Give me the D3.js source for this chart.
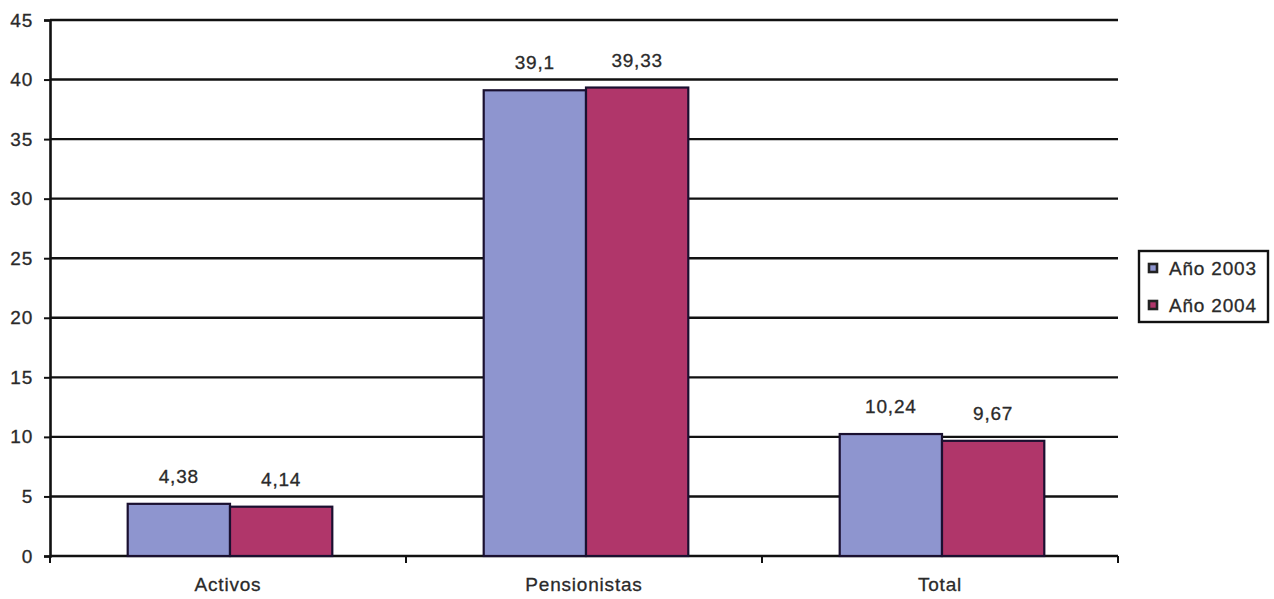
<!DOCTYPE html>
<html>
<head>
<meta charset="utf-8">
<script src="https://cdn.jsdelivr.net/npm/d3@7"></script>
<style>
  body { margin: 0; background: #fff; }
  svg { display: block; }
  text { font-family: "Liberation Sans", Arial, sans-serif; fill: #2a2a2a; letter-spacing: 0.8px; stroke: #2a2a2a; stroke-width: 0.3px; }
</style>
</head>
<body>
<svg id="chart" width="1274" height="599"></svg>
<script>
const categories = ["Activos", "Pensionistas", "Total"];
const seriesNames = ["Año 2003", "Año 2004"];
const values2003 = [4.38, 39.1, 10.24];
const values2004 = [4.14, 39.33, 9.67];
const labels2003 = ["4,38", "39,1", "10,24"];
const labels2004 = ["4,14", "39,33", "9,67"];
const yTicks = [0, 5, 10, 15, 20, 25, 30, 35, 40, 45];
const colors = ["#8e95cf", "#b0366a"];

const FS = 19;
const svg = d3.select("#chart");
const mLeft = 50, mRight = 1118, mTop = 20, mBottom = 556;

const x = d3.scaleBand().domain(categories).range([mLeft, mRight]).paddingInner(0).paddingOuter(0);
const xs = d3.scaleBand().domain(seriesNames).range([2, x.bandwidth() + 2]).paddingInner(0).paddingOuter(0.74);
const y = d3.scaleLinear().domain([0, 45]).range([mBottom, mTop]);

// gridlines
svg.append("g").selectAll("line").data(yTicks.filter(d => d > 0)).join("line")
  .attr("x1", mLeft).attr("x2", mRight)
  .attr("y1", d => y(d)).attr("y2", d => y(d))
  .attr("stroke", "#111").attr("stroke-width", 2.4);

// y axis
const yAxis = d3.axisLeft(y).tickValues(yTicks).tickSize(6).tickPadding(11).tickFormat(d3.format("d"));
const gy = svg.append("g").attr("transform", `translate(${mLeft},0)`).call(yAxis);
gy.select(".domain").attr("stroke", "#111").attr("stroke-width", 2.6);
gy.selectAll(".tick line").attr("stroke", "#111").attr("stroke-width", 2);
gy.selectAll(".tick text").attr("font-size", FS).attr("fill", "#2a2a2a").style("font-family", "Liberation Sans, Arial, sans-serif");

// x axis
const xAxis = d3.axisBottom(x).tickSize(0).tickPadding(22);
const gx = svg.append("g").attr("transform", `translate(0,${mBottom})`).call(xAxis);
gx.select(".domain").remove();
gx.selectAll(".tick text").attr("font-size", FS).attr("fill", "#2a2a2a").style("font-family", "Liberation Sans, Arial, sans-serif");
// boundary ticks
const boundaries = categories.map(c => x(c)).concat([mRight]);
svg.append("g").selectAll("line").data(boundaries).join("line")
  .attr("x1", d => d).attr("x2", d => d).attr("y1", mBottom).attr("y2", mBottom + 7)
  .attr("stroke", "#111").attr("stroke-width", 2);
svg.append("line").attr("x1", mLeft).attr("x2", mRight).attr("y1", mBottom).attr("y2", mBottom)
  .attr("stroke", "#111").attr("stroke-width", 2.6);

// bars
const seriesData = [values2003, values2004];
const seriesLabels = [labels2003, labels2004];
seriesNames.forEach((s, si) => {
  const g = svg.append("g");
  g.selectAll("rect").data(categories).join("rect")
    .attr("x", c => x(c) + xs(s))
    .attr("width", xs.bandwidth())
    .attr("y", (c, i) => y(seriesData[si][i]))
    .attr("height", (c, i) => mBottom - y(seriesData[si][i]))
    .attr("fill", colors[si])
    .attr("stroke", "#1a1030").attr("stroke-width", 2.2);
  g.selectAll("text").data(categories).join("text")
    .attr("x", c => x(c) + xs(s) + xs.bandwidth() / 2)
    .attr("y", (c, i) => y(seriesData[si][i]) - 21)
    .attr("text-anchor", "middle")
    .attr("font-size", FS)
    .text((c, i) => seriesLabels[si][i]);
});

// legend
const lg = svg.append("g").attr("transform", "translate(1139,251)");
lg.append("rect").attr("width", 129).attr("height", 71).attr("fill", "#fff")
  .attr("stroke", "#111").attr("stroke-width", 2.4);
seriesNames.forEach((s, i) => {
  const yy = 17 + i * 37;
  lg.append("rect").attr("x", 10).attr("y", yy - 4).attr("width", 8).attr("height", 8)
    .attr("fill", colors[i]).attr("stroke", "#222").attr("stroke-width", 2.6);
  lg.append("text").attr("x", 30).attr("y", yy + 7).attr("font-size", FS).text(s);
});
</script>
</body>
</html>
